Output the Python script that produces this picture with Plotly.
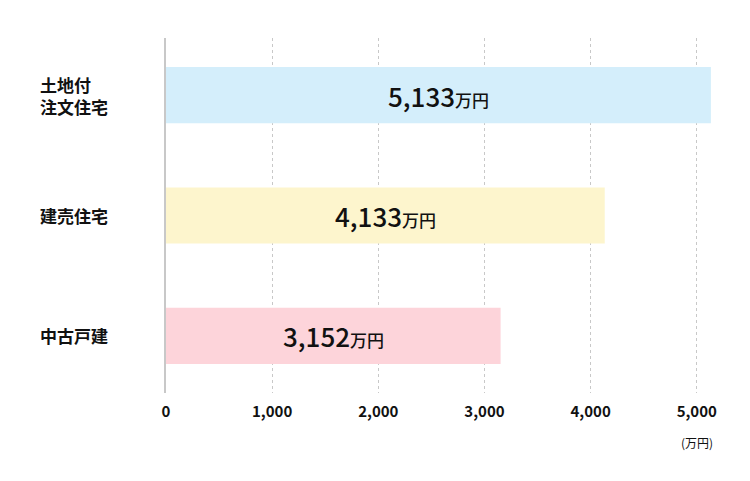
import plotly.graph_objects as go

categories = ["土地付<br>注文住宅", "建売住宅", "中古戸建"]
values = [5133, 4133, 3152]
colors = ["#d4eefb", "#fdf5cd", "#fdd4da"]
tick_vals = [0, 1000, 2000, 3000, 4000, 5000]
tick_text = ["0", "1,000", "2,000", "3,000", "4,000", "5,000"]

font = "Noto Sans CJK JP"
pos = list(range(len(categories)))

fig = go.Figure()
fig.add_trace(go.Bar(
    x=values, y=pos, orientation="h",
    marker=dict(color=colors, line=dict(width=0)),
    width=0.467, hoverinfo="skip",
))

# value labels inside bars
for p, v in zip(pos, values):
    fig.add_annotation(
        x=v / 2, y=p, xref="x", yref="y", showarrow=False,
        text=f"<span style='font-size:26px'>{v:,}</span><span style='font-size:17px'>万円</span>",
        font=dict(family=font, color="#111", size=26, weight=500),
    )

# category labels, left aligned
for p, c in zip(pos, categories):
    fig.add_annotation(
        x=-0.232, xref="paper", y=p, yref="y", showarrow=False,
        xanchor="left", align="left", text=c,
        font=dict(family=font, size=17, color="#111", weight="bold"),
    )

fig.add_annotation(
    x=5000, xref="x", y=-0.17, yref="paper", showarrow=False,
    text="(万円)", font=dict(family=font, size=12, color="#111"),
)

fig.update_xaxes(
    range=[0, 5200], tickvals=tick_vals, ticktext=tick_text,
    showgrid=True, gridcolor="#c8c8c8", griddash="dot", gridwidth=1,
    zeroline=False, showline=False, ticks="", ticklen=0, ticklabelstandoff=8,
    tickfont=dict(family=font, size=15, color="#111", weight="bold"),
)
fig.update_yaxes(
    range=[2.475, -0.475], showticklabels=False, showgrid=False,
    zeroline=False, showline=True, linecolor="#c8c8c8", linewidth=2,
)
fig.update_layout(
    width=750, height=481, margin=dict(l=158, r=40, t=30, b=96),
    plot_bgcolor="white", paper_bgcolor="white", showlegend=False,
    font=dict(family=font),
)
fig.write_html("out.html")
